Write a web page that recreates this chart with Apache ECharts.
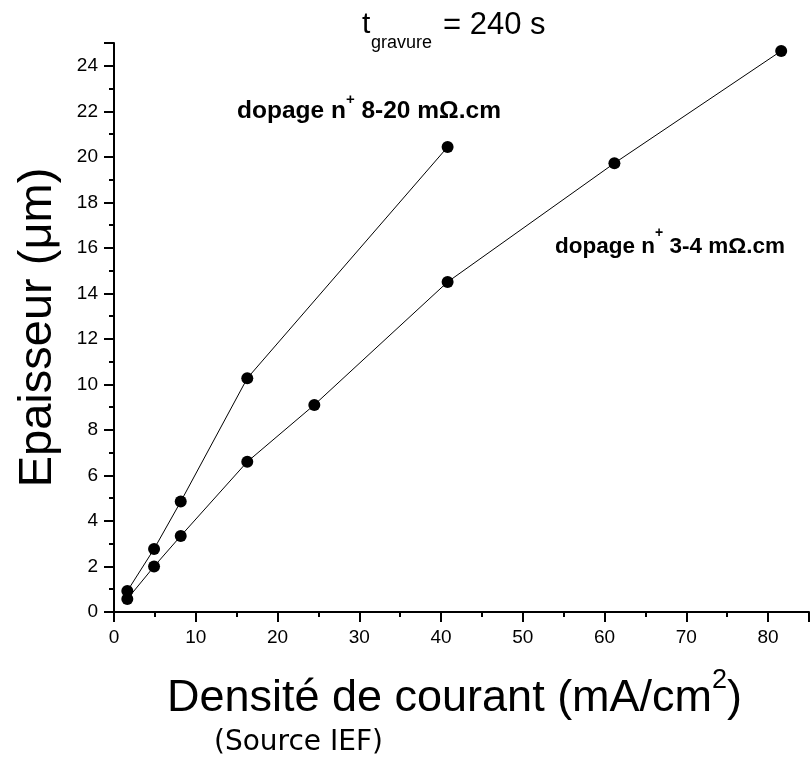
<!DOCTYPE html>
<html>
<head>
<meta charset="utf-8">
<script src="https://cdn.jsdelivr.net/npm/echarts@6/dist/echarts.min.js"></script>
<style>html,body{margin:0;padding:0;background:#fff}#c{width:812px;height:757px}</style>
</head>
<body>
<div id="c"></div>
<script>
// Data
var densite_8_20 = [1.63, 4.9, 8.16, 16.3, 40.8];
var epaisseur_8_20 = [0.92, 2.77, 4.85, 10.27, 20.43];
var densite_3_4 = [1.63, 4.9, 8.16, 16.3, 24.5, 40.8, 61.2, 81.6];
var epaisseur_3_4 = [0.57, 2.0, 3.34, 6.6, 9.1, 14.5, 19.72, 24.65];
var xTicks = [0, 10, 20, 30, 40, 50, 60, 70, 80];
var yTicks = [0, 2, 4, 6, 8, 10, 12, 14, 16, 18, 20, 22, 24];

function pairs(xs, ys) { return xs.map(function (x, i) { return [x, ys[i]]; }); }

var FONT = 'Liberation Sans, Arial, sans-serif';
var chart = echarts.init(document.getElementById('c'), null, { renderer: 'canvas' });
var axisCommon = {
  axisLine: { show: true, onZero: false, lineStyle: { color: '#000', width: 2 } },
  axisTick: { show: true, inside: false, length: 10, lineStyle: { color: '#000', width: 2 } },
  minorTick: { show: true, splitNumber: 2, length: 5, lineStyle: { color: '#000', width: 2 } },
  splitLine: { show: false },
  axisLabel: { color: '#000', fontFamily: FONT, fontSize: 19, margin: 16 }
};
function annRich(fs) {
  return {
    b: { fontFamily: FONT, fontSize: fs, fontWeight: 'bold', fill: '#000', lineHeight: 32, verticalAlign: 'bottom' },
    p: { fontFamily: FONT, fontSize: Math.round(fs * 0.62), fontWeight: 'bold', fill: '#000', lineHeight: 32, verticalAlign: 'top' }
  };
}
chart.setOption({
  backgroundColor: '#fff',
  animation: false,
  grid: { left: 114, top: 43, bottom: 145, right: -3, containLabel: false },
  xAxis: Object.assign({}, axisCommon, {
    type: 'value', min: 0, max: 85, interval: 10,
    axisLabel: Object.assign({}, axisCommon.axisLabel, {
      formatter: function (v) { return xTicks.indexOf(v) >= 0 ? String(v) : ''; }
    }),
    name: '{n|Densité de courant (mA/cm}{s|2}{n|)}',
    nameLocation: 'middle', nameGap: 55,
    nameTextStyle: {
      padding: [0, 14, 0, 0],
      rich: {
        n: { fontFamily: FONT, fontSize: 45, color: '#000', verticalAlign: 'bottom', lineHeight: 54 },
        s: { fontFamily: FONT, fontSize: 27, color: '#000', verticalAlign: 'top', lineHeight: 54 }
      }
    }
  }),
  yAxis: Object.assign({}, axisCommon, {
    type: 'value', min: 0, max: 25, interval: 2,
    axisLabel: Object.assign({}, axisCommon.axisLabel, {
      formatter: function (v) { return yTicks.indexOf(v) >= 0 ? String(v) : ''; }
    }),
    name: 'Epaisseur (μm)',
    nameLocation: 'middle', nameGap: 52, nameRotate: 90,
    nameTextStyle: { fontFamily: FONT, fontSize: 47, color: '#000' }
  }),
  graphic: [
    { type: 'text', x: 362, y: 25, style: { text: 't', fontFamily: FONT, fontSize: 30, fill: '#000', verticalAlign: 'middle' } },
    { type: 'text', x: 371, y: 43, style: { text: 'gravure', fontFamily: FONT, fontSize: 18, fill: '#000', verticalAlign: 'middle' } },
    { type: 'text', x: 443, y: 25, style: { text: '= 240 s', fontFamily: FONT, fontSize: 31, fill: '#000', verticalAlign: 'middle' } },
    { type: 'text', left: 237, top: 92, style: { text: '{b|dopage n}{p|+}{b| 8-20 mΩ.cm}', rich: annRich(24.5) } },
    { type: 'text', left: 555, top: 226, style: { text: '{b|dopage n}{p|+}{b| 3-4 mΩ.cm}', rich: annRich(22.5) } },
    { type: 'text', left: 214, top: 729, style: { text: '(Source IEF)', fontFamily: 'DejaVu Sans, Verdana, sans-serif', fontSize: 28, fill: '#000' } }
  ],
  series: [
    {
      name: 'dopage n+ 8-20', type: 'line', data: pairs(densite_8_20, epaisseur_8_20),
      symbol: 'circle', symbolSize: 12, itemStyle: { color: '#000' },
      lineStyle: { color: '#000', width: 1 }
    },
    {
      name: 'dopage n+ 3-4', type: 'line', data: pairs(densite_3_4, epaisseur_3_4),
      symbol: 'circle', symbolSize: 12, itemStyle: { color: '#000' },
      lineStyle: { color: '#000', width: 1 }
    }
  ]
});
</script>
</body>
</html>
